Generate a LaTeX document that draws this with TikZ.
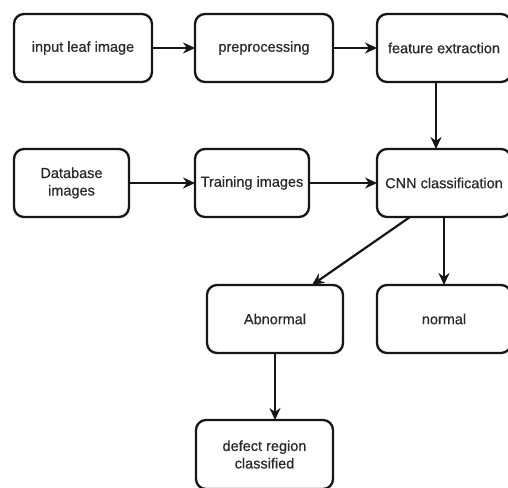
\documentclass[tikz,border=0pt]{standalone}
\usepackage{fontspec}
\setmainfont{Liberation Sans}
\newfontfamily\lblfont[FakeBold=0.6]{Liberation Sans}
\usetikzlibrary{arrows.meta}
\definecolor{txt}{HTML}{2A2A2A}
\definecolor{ln}{HTML}{161616}
\begin{document}
\begin{tikzpicture}[x=1pt,y=-1pt,
  box/.style={draw=ln,line width=2.3pt,rounded corners=10pt,inner sep=0pt,outer sep=0pt,
    minimum height=68pt,align=center,text=txt,font=\lblfont\fontsize{14.5}{17.5}\selectfont},
  arr/.style={draw=ln,line width=2.2pt,-{Stealth[length=12pt,width=11pt]}}]
\useasboundingbox (0,0) rectangle (508,487);
\clip (0,0) rectangle (508,487);
\fill[white] (0,0) rectangle (508,487);
\node[box,minimum width=138pt] (a1) at (83,48) {input leaf image};
\node[box,minimum width=138pt] (a2) at (264,48) {preprocessing};
\node[box,minimum width=134pt] (a3) at (444,48) {feature extraction};
\node[box,minimum width=115pt] (db) at (71.5,183) {Database\\images};
\node[box,minimum width=114pt] (tr) at (252,183) {Training images};
\node[box,minimum width=134pt] (cnn) at (444,183) {CNN classification};
\node[box,minimum width=136pt] (abn) at (275,319) {Abnormal};
\node[box,minimum width=134pt] (nor) at (444,319) {normal};
\node[box,minimum width=137pt,minimum height=69pt] (def) at (264.5,454.5) {defect region\\classified};
\draw[arr] (a1) -- (a2);
\draw[arr] (a2) -- (a3);
\draw[arr] ([xshift=-8pt]a3.south) -- ([xshift=-8pt]cnn.north);
\draw[arr] (db) -- (tr);
\draw[arr] (tr) -- (cnn);
\draw[arr] ([xshift=-34pt]cnn.south) -- ([xshift=37pt]abn.north);
\draw[arr] (cnn.south) -- (nor.north);
\draw[arr] (abn.south) -- (abn.south |- def.north);
\end{tikzpicture}
\end{document}
